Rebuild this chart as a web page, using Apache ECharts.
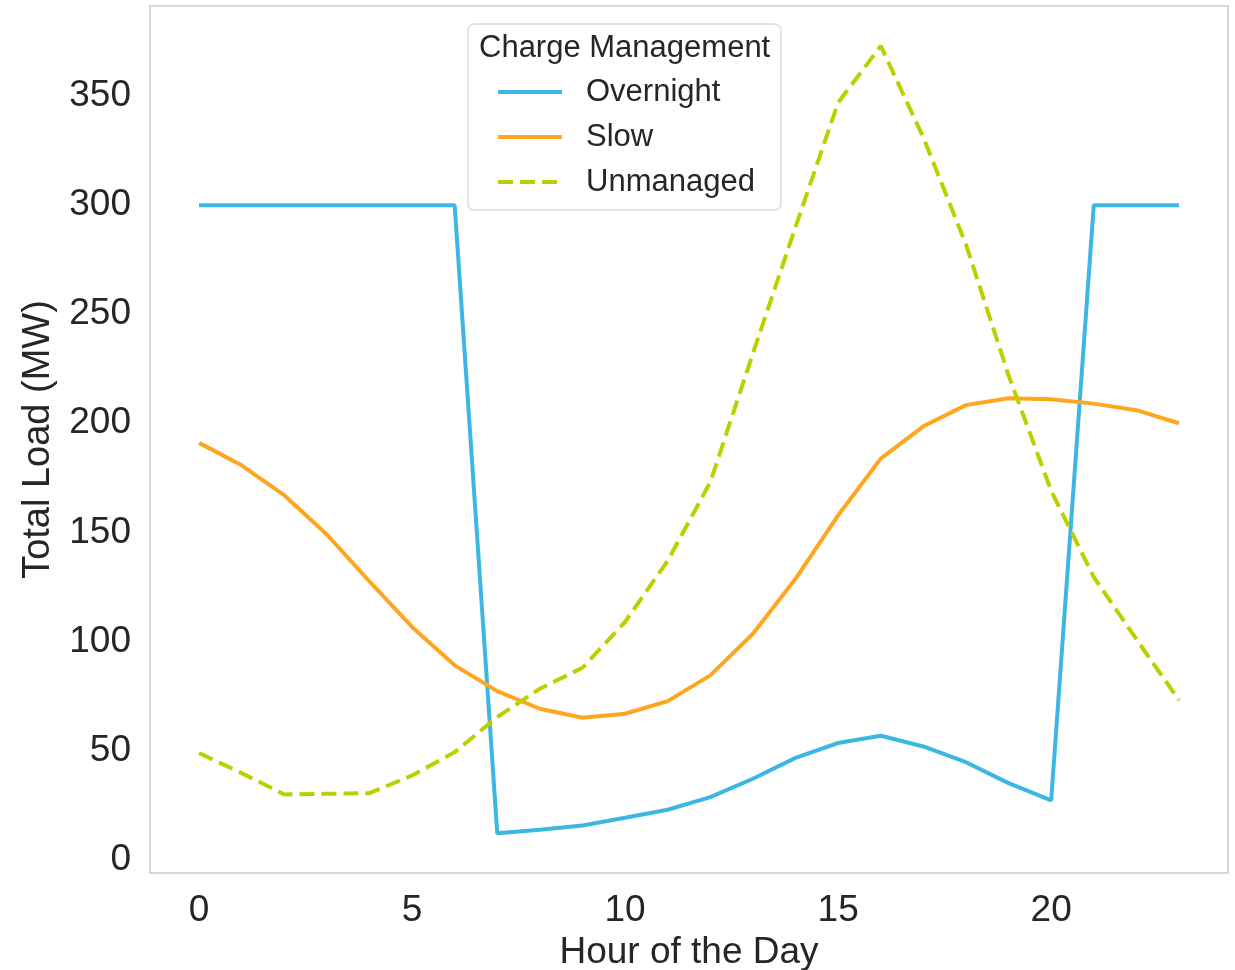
<!DOCTYPE html>
<html lang="en">
<head>
  <meta charset="UTF-8">
  <title>Total Load by Charge Management</title>
  <script src="https://cdn.jsdelivr.net/npm/echarts@6/dist/echarts.min.js"></script>
  <style>
    * { margin: 0; padding: 0; box-sizing: border-box; }
    body { background: #fff; }
    #chart { width: 1235px; height: 970px; }
  </style>
</head>
<body>
<div id="chart"></div>
<script>
// hour of day
const hours = [0, 1, 2, 3, 4, 5, 6, 7, 8, 9, 10, 11, 12, 13, 14, 15, 16, 17, 18, 19, 20, 21, 22, 23];

// total load (MW) per charge management strategy
const overnight = [300, 300, 300, 300, 300, 300, 300, 12, 13.6, 15.6, 19.1, 22.8, 28.6, 37, 46.6, 53.4, 56.7, 51.8, 44.6, 35, 27.1, 300, 300, 300];
const slow = [191, 180.7, 167, 149, 127.5, 106.6, 89, 77.2, 69.1, 65, 66.8, 72.6, 84.4, 103.5, 128.7, 157.8, 183.8, 198.6, 208.3, 211.5, 211, 209, 206, 200];
const unmanaged = [48.8, 39.6, 29.8, 30.1, 30.4, 38.5, 49.2, 65.3, 78.3, 87.9, 108.9, 137, 173, 232, 290, 347, 373, 331, 282, 222, 169, 129.5, 101, 73];

const xTicks = [0, 5, 10, 15, 20];
const yTicks = [0, 50, 100, 150, 200, 250, 300, 350];

const FONT = '"Liberation Sans", Arial, sans-serif';
const TEXT = '#262626';

const pairs = arr => hours.map((h, i) => [h, arr[i]]);

const chart = echarts.init(document.getElementById('chart'));
chart.setOption({
  animation: false,
  textStyle: { fontFamily: FONT, color: TEXT },
  grid: {
    left: 150, right: 7, top: 6, bottom: 97,
    outerBoundsMode: 'none', containLabel: false,
    show: true, borderColor: '#cccccc', borderWidth: 1.5
  },
  title: {
    text: 'Charge Management',
    left: 479, top: 33, padding: 0,
    textStyle: { fontFamily: FONT, fontSize: 31, fontWeight: 'normal', color: TEXT }
  },
  legend: {
    orient: 'vertical',
    left: 468, top: 24,
    padding: [50, 26, 10, 28],
    itemWidth: 64, itemHeight: 16, itemGap: 9,
    borderColor: '#dcdcdc', borderWidth: 1.5, borderRadius: 6,
    backgroundColor: 'rgba(255,255,255,0.8)',
    itemStyle: { opacity: 0 },
    lineStyle: { width: 4 },
    textStyle: { fontFamily: FONT, fontSize: 31, color: TEXT, lineHeight: 36, padding: [0, 0, 0, 19] },
    data: ['Overnight', 'Slow', 'Unmanaged']
  },
  xAxis: {
    type: 'value', min: -1.15, max: 24.15,
    name: 'Hour of the Day', nameLocation: 'middle', nameGap: 61,
    nameTextStyle: { fontFamily: FONT, fontSize: 37, color: TEXT },
    axisLine: { show: false }, axisTick: { show: false }, splitLine: { show: false },
    axisLabel: { customValues: xTicks, fontFamily: FONT, fontSize: 37, color: TEXT, margin: 19 }
  },
  yAxis: {
    type: 'value', min: -6.2, max: 391.3,
    name: 'Total Load (MW)', nameLocation: 'middle', nameGap: 92,
    nameTextStyle: { fontFamily: FONT, fontSize: 38, color: TEXT },
    axisLine: { show: false }, axisTick: { show: false }, splitLine: { show: false },
    axisLabel: { customValues: yTicks, fontFamily: FONT, fontSize: 37, color: TEXT, margin: 19 }
  },
  series: [
    {
      name: 'Overnight', type: 'line', data: pairs(overnight), symbol: 'none',
      lineStyle: { color: '#3cb6e2', width: 4 }, itemStyle: { color: '#3cb6e2' }
    },
    {
      name: 'Slow', type: 'line', data: pairs(slow), symbol: 'none',
      lineStyle: { color: '#ffa61e', width: 4 }, itemStyle: { color: '#ffa61e' }
    },
    {
      name: 'Unmanaged', type: 'line', data: pairs(unmanaged), symbol: 'none',
      lineStyle: { color: '#bcd000', width: 4, type: [15, 7] }, itemStyle: { color: '#bcd000' }
    }
  ]
});
</script>
</body>
</html>
